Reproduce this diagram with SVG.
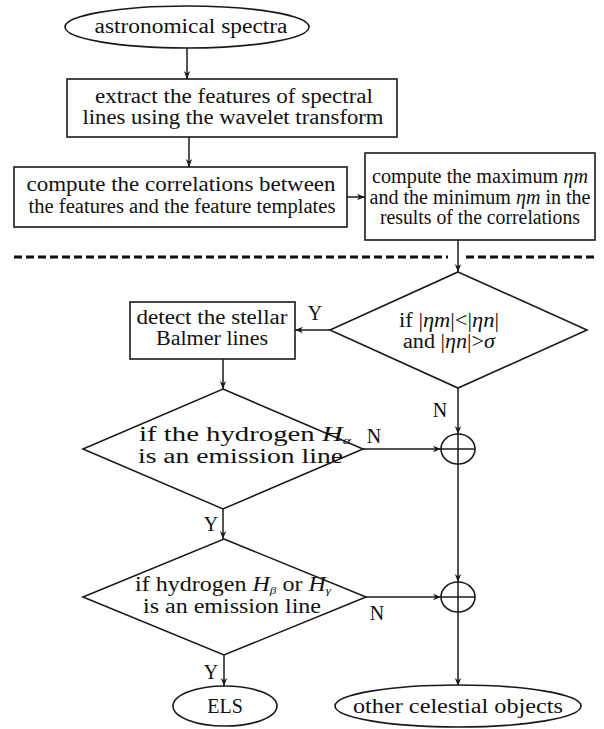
<svg xmlns="http://www.w3.org/2000/svg" width="604" height="729" viewBox="0 0 604 729">
<style>
.s{fill:#fff;stroke:#1a1a1a;stroke-width:1.6}
.c{fill:none;stroke:#1a1a1a;stroke-width:1.5}
.t{font-family:"Liberation Serif","Times New Roman",serif;font-size:20px;fill:#111;text-anchor:middle}
.l{font-family:"Liberation Serif","Times New Roman",serif;font-size:20px;fill:#111}
.i{font-style:italic}
.sub{font-style:italic;font-size:11px}
.dash{fill:none;stroke:#111;stroke-width:3;stroke-dasharray:8 4}
</style>
<defs>
<marker id="a" viewBox="0 0 10 10" refX="10" refY="5" markerWidth="8" markerHeight="8" markerUnits="userSpaceOnUse" orient="auto">
<path d="M0,1 L10,5 L0,9 L3,5 z" fill="#1a1a1a"/>
</marker>
</defs>
<rect width="604" height="729" fill="#fff"/>

<g id="connectors">
<line class="c" x1="187" y1="48" x2="187" y2="79" marker-end="url(#a)"/>
<line class="c" x1="189" y1="137" x2="189" y2="167" marker-end="url(#a)"/>
<line class="c" x1="347" y1="197" x2="365" y2="197" marker-end="url(#a)"/>
<line class="c" x1="458" y1="240" x2="458" y2="272" marker-end="url(#a)"/>
<line class="c" x1="330" y1="330" x2="295" y2="330" marker-end="url(#a)"/>
<line class="c" x1="223" y1="359" x2="223" y2="389" marker-end="url(#a)"/>
<line class="c" x1="458" y1="388" x2="458" y2="434" marker-end="url(#a)"/>
<line class="c" x1="363" y1="449" x2="441" y2="449" marker-end="url(#a)"/>
<line class="c" x1="223" y1="509" x2="223" y2="539" marker-end="url(#a)"/>
<line class="c" x1="458" y1="464" x2="458" y2="582" marker-end="url(#a)"/>
<line class="c" x1="366" y1="597" x2="441" y2="597" marker-end="url(#a)"/>
<line class="c" x1="224" y1="655" x2="224" y2="686" marker-end="url(#a)"/>
<line class="c" x1="458" y1="612" x2="458" y2="686" marker-end="url(#a)"/>
<text class="t" x="315" y="320">Y</text>
<text class="t" x="440" y="417">N</text>
<text class="t" x="374" y="443">N</text>
<text class="t" x="211" y="531">Y</text>
<text class="t" x="377" y="620">N</text>
<text class="t" x="211" y="679">Y</text>
</g>

<g id="separator">
<line class="dash" x1="14" y1="257" x2="448" y2="257"/>
<line class="dash" x1="466" y1="257" x2="596" y2="257"/>
</g>

<g id="start">
<ellipse class="s" cx="187" cy="27" rx="122" ry="21"/>
<text class="t" x="191" y="33" textLength="193" lengthAdjust="spacingAndGlyphs">astronomical spectra</text>
</g>

<g id="extract">
<rect class="s" x="67" y="79" width="330" height="58"/>
<text class="t" x="234" y="103" textLength="278" lengthAdjust="spacingAndGlyphs">extract the features of spectral</text>
<text class="t" x="233" y="124" textLength="301" lengthAdjust="spacingAndGlyphs">lines using the wavelet transform</text>
</g>

<g id="correlate">
<rect class="s" x="14" y="167" width="333" height="60"/>
<text class="t" x="181" y="191" textLength="309" lengthAdjust="spacingAndGlyphs">compute the correlations between</text>
<text class="t" x="182" y="213" textLength="307" lengthAdjust="spacingAndGlyphs">the features and the feature templates</text>
</g>

<g id="maxmin">
<rect class="s" x="365" y="153" width="230" height="87"/>
<text class="t" x="480" y="183" textLength="216" lengthAdjust="spacingAndGlyphs">compute the maximum <tspan class="i">ηm</tspan></text>
<text class="t" x="480" y="204" textLength="221" lengthAdjust="spacingAndGlyphs">and the minimum <tspan class="i">ηm</tspan> in the</text>
<text class="t" x="480" y="224" textLength="200" lengthAdjust="spacingAndGlyphs">results of the correlations</text>
</g>

<g id="decision1">
<polygon class="s" points="458,272 587,330 458,388 330,330"/>
<text class="t" x="449" y="327" textLength="100" lengthAdjust="spacingAndGlyphs">if |<tspan class="i">ηm</tspan>|&lt;|<tspan class="i">ηn</tspan>|</text>
<text class="t" x="449" y="348" textLength="92" lengthAdjust="spacingAndGlyphs">and |<tspan class="i">ηn</tspan>|&gt;<tspan class="i">σ</tspan></text>
</g>

<g id="balmer">
<rect class="s" x="130" y="302" width="165" height="57"/>
<text class="t" x="212" y="324" textLength="151" lengthAdjust="spacingAndGlyphs">detect the stellar</text>
<text class="t" x="212" y="345" textLength="112" lengthAdjust="spacingAndGlyphs">Balmer lines</text>
</g>

<g id="decision2">
<polygon class="s" points="223,389 363,449 223,509 83,449"/>
<text class="l" x="139" y="441" textLength="212" lengthAdjust="spacingAndGlyphs">if the hydrogen <tspan class="i">H</tspan><tspan class="sub" dy="3">α</tspan></text>
<text class="l" x="138" y="463" textLength="205" lengthAdjust="spacingAndGlyphs">is an emission line</text>
</g>

<g id="merge1">
<ellipse class="s" cx="458" cy="449" rx="17" ry="15"/>
<line class="c" x1="441" y1="449" x2="475" y2="449"/>
<line class="c" x1="458" y1="434" x2="458" y2="464"/>
</g>

<g id="decision3">
<polygon class="s" points="224,539 366,597 224,655 83,597"/>
<text class="l" x="135" y="591" textLength="196" lengthAdjust="spacingAndGlyphs">if hydrogen <tspan class="i">H</tspan><tspan class="sub" dy="3">β</tspan><tspan dy="-3"> or </tspan><tspan class="i">H</tspan><tspan class="sub" dy="3">γ</tspan></text>
<text class="l" x="143" y="613" textLength="178" lengthAdjust="spacingAndGlyphs">is an emission line</text>
</g>

<g id="merge2">
<ellipse class="s" cx="458" cy="597" rx="17" ry="15"/>
<line class="c" x1="441" y1="597" x2="475" y2="597"/>
<line class="c" x1="458" y1="582" x2="458" y2="612"/>
</g>

<g id="els">
<ellipse class="s" cx="225" cy="706" rx="52" ry="20"/>
<text class="t" x="225" y="713">ELS</text>
</g>

<g id="other">
<ellipse class="s" cx="458" cy="706" rx="123" ry="21"/>
<text class="t" x="458" y="713" textLength="210" lengthAdjust="spacingAndGlyphs">other celestial objects</text>
</g>
</svg>
